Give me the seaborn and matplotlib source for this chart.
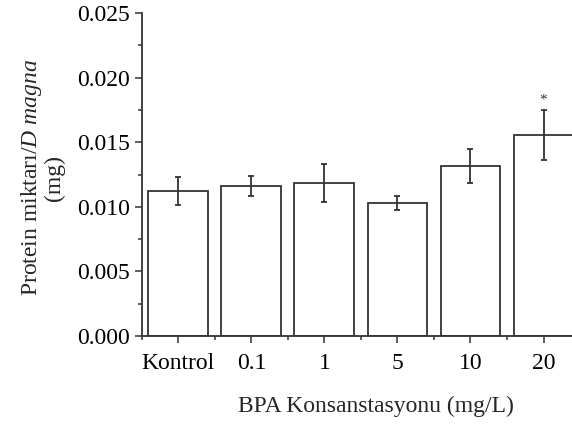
import numpy as np
import pandas as pd
import matplotlib
matplotlib.use('Agg')
import matplotlib.pyplot as plt
import seaborn as sns
from matplotlib.ticker import MultipleLocator, FixedLocator

# veri
groups = ['Kontrol', '0.1', '1', '5', '10', '20']
protein = [0.01122, 0.01161, 0.01187, 0.01027, 0.01316, 0.01556]
std_err = [0.00107, 0.00080, 0.00146, 0.00054, 0.00132, 0.00191]
signif = ['', '', '', '', '', '*']

df = pd.DataFrame({'grup': groups, 'protein': protein})

sns.set_style('ticks')
plt.rcParams['font.family'] = ['Liberation Serif', 'DejaVu Serif']
plt.rcParams['mathtext.fontset'] = 'custom'
plt.rcParams['mathtext.it'] = 'Liberation Serif:italic'
plt.rcParams['mathtext.rm'] = 'Liberation Serif'

line_c = '#333333'

fig = plt.figure(figsize=(5.72, 4.24), dpi=100)
ax = fig.add_axes([0.248, 0.2075, 0.752, 0.7615])

sns.barplot(df, x='grup', y='protein', color='white', edgecolor=line_c,
            linewidth=1.3, width=0.82, errorbar=None, ax=ax)
ax.errorbar(np.arange(len(groups)), protein, yerr=std_err, fmt='none',
            ecolor=line_c, elinewidth=1.3, capsize=2.3, capthick=1.3)

for i, s in enumerate(signif):
    if s:
        ax.text(i, protein[i] + std_err[i] + 0.0003, s, ha='center', va='bottom',
                fontsize=11, color=line_c)

ax.set_ylim(0, 0.025)
ax.set_xlim(-0.5, 5.39)
ax.yaxis.set_major_locator(MultipleLocator(0.005))
ax.yaxis.set_minor_locator(MultipleLocator(0.0025))
ax.yaxis.set_major_formatter(plt.FormatStrFormatter('%.3f'))
ax.xaxis.set_minor_locator(FixedLocator(np.arange(-0.5, 6, 1)))

ax.tick_params(axis='both', which='major', labelsize=17, length=5,
               width=1.1, color=line_c, labelcolor='black')
ax.tick_params(axis='both', which='minor', length=3, width=1.1, color=line_c)
ax.tick_params(axis='x', which='major', pad=7)

for side in ['top', 'right']:
    ax.spines[side].set_visible(False)
for side in ['left', 'bottom']:
    ax.spines[side].set_color(line_c)
    ax.spines[side].set_linewidth(1.3)

ax.set_xlabel('BPA Konsanstasyonu (mg/L)', fontsize=17)
ax.xaxis.set_label_coords(0.545, -0.185)
ax.set_ylabel('Protein miktarı/$D$ $magna$\n(mg)', fontsize=17,
              linespacing=1.0)
ax.yaxis.set_label_coords(-0.179, 0.49)

fig.savefig('out.png', dpi=100)
